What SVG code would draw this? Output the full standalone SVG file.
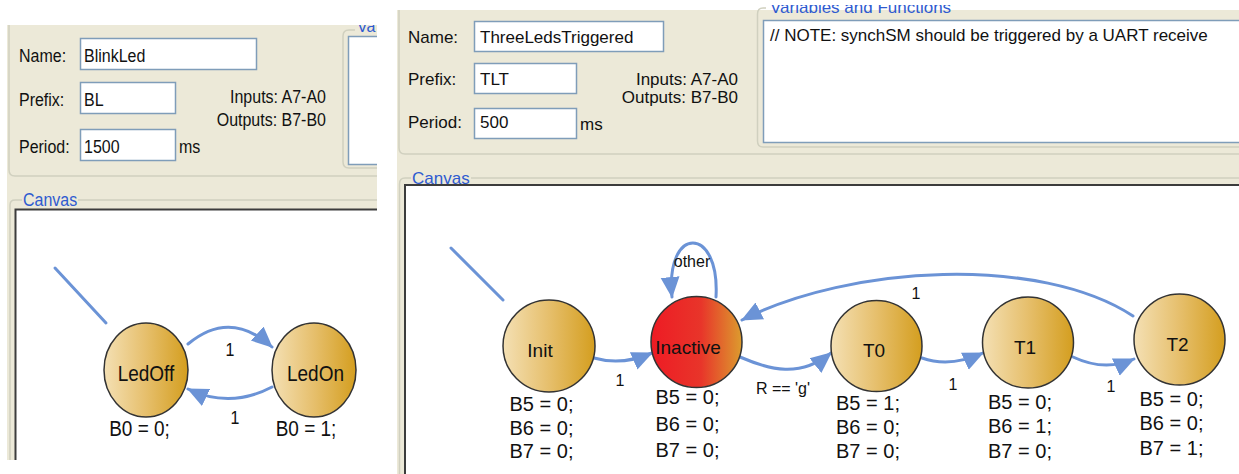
<svg xmlns="http://www.w3.org/2000/svg" width="1239" height="474" viewBox="0 0 1239 474">
  <defs>
    <style>
      .ui { font-family: "Liberation Sans", Arial, sans-serif; fill: #111; }
      .f16 { font-size: 16px; }
      .f17 { font-size: 17px; }
      .f19 { font-size: 19px; }
      .f20 { font-size: 20px; }
      .mid { text-anchor: middle; }
      .end { text-anchor: end; }
      .tall { transform-box: fill-box; transform-origin: 50% 50%; transform: scaleY(1.12); }
      .grp { fill: #2f5bd0; }
      .panel { fill: #ece9d8; }
      .frame { fill: none; stroke: #d0d0bf; stroke-width: 1.5; }
      .box { fill: #fff; stroke: #7f9db9; stroke-width: 1.5; }
      .sunk { fill: none; stroke: #3c3c3c; stroke-width: 2; }
      .state { stroke: #333; stroke-width: 1.5; }
      .edge { fill: none; stroke: #6b93d6; stroke-width: 3; stroke-linecap: round; }
      .arr { marker-end: url(#head); }
    </style>
    <linearGradient id="gold" x1="0" y1="0" x2="1" y2="0">
      <stop offset="0" stop-color="#f4e0b4"/>
      <stop offset="0.5" stop-color="#e6bf6c"/>
      <stop offset="1" stop-color="#d49e1f"/>
    </linearGradient>
    <linearGradient id="hot" x1="0" y1="0" x2="1" y2="0">
      <stop offset="0" stop-color="#ee1b24"/>
      <stop offset="0.55" stop-color="#e8352a"/>
      <stop offset="1" stop-color="#dc9c2e"/>
    </linearGradient>
    <marker id="head" viewBox="0 0 20 20" refX="19" refY="10" markerWidth="21" markerHeight="21" markerUnits="userSpaceOnUse" orient="auto">
      <path d="M0,1 L20,10 L0,19 z" fill="#6b93d6"/>
    </marker>
    <clipPath id="clipL"><rect x="0" y="25" width="377" height="435"/></clipPath>
    <clipPath id="clipR"><rect x="397" y="5" width="842" height="469"/></clipPath>
  </defs>

  <rect x="0" y="0" width="1239" height="474" fill="#fff"/>

  <!-- BlinkLed editor: form, variables box and canvas frame -->
  <g id="blinkled-panel" clip-path="url(#clipL)">
    <rect class="panel" x="7" y="25" width="370" height="435"/>
    <path class="frame" d="M9,20 L9,170 Q9,176 15,176 L377,176"/>
    <path class="frame" d="M355,30 L349,30 Q343,30 343,36 L343,162 Q343,168 349,168 L377,168"/>
    <text class="ui grp f16" x="357" y="32">Va</text>
    <rect class="box" x="348.5" y="36.5" width="60" height="128"/>

    <text class="ui f16 tall" x="19" y="61">Name:</text>
    <rect class="box" x="80.5" y="38.5" width="176" height="31"/>
    <text class="ui f16 tall" x="84" y="61">BlinkLed</text>
    <text class="ui f16 tall" x="19" y="105">Prefix:</text>
    <rect class="box" x="80.5" y="82.5" width="95" height="31"/>
    <text class="ui f16 tall" x="84" y="105">BL</text>
    <text class="ui f16 tall" x="19" y="152">Period:</text>
    <rect class="box" x="80.5" y="129.5" width="95" height="31"/>
    <text class="ui f16 tall" x="84" y="152">1500</text>
    <text class="ui f16 tall" x="179" y="152">ms</text>
    <text class="ui f16 tall end" x="326" y="102">Inputs: A7-A0</text>
    <text class="ui f16 tall end" x="326" y="125">Outputs: B7-B0</text>

    <path class="frame" d="M22,200 L15,200 Q10,200 10,205 L10,460 M78,200 L377,200"/>
    <text class="ui grp f16 tall" x="23" y="205">Canvas</text>
    <rect x="16" y="210" width="361" height="250" fill="#fff"/>
    <path class="sunk" d="M15.5,460 L15.5,209.5 L377,209.5"/>
  </g>

  <g id="blinkled-connectors">
    <path class="edge" d="M55,268 L106,323"/>
    <path class="edge arr" d="M188,344 Q230,309 272,347"/>
    <path class="edge arr" d="M272,387 Q230,409 188,389"/>
    <text class="ui f16 tall mid" x="230" y="355">1</text>
    <text class="ui f16 tall mid" x="235" y="423">1</text>
  </g>

  <g id="state-LedOff">
    <ellipse class="state" cx="146" cy="370" rx="42" ry="47" fill="url(#gold)"/>
    <text class="ui f19 tall mid" x="146" y="380">LedOff</text>
    <text class="ui f19 tall mid" x="139.5" y="435">B0 = 0;</text>
  </g>
  <g id="state-LedOn">
    <ellipse class="state" cx="314" cy="370" rx="42" ry="47" fill="url(#gold)"/>
    <text class="ui f19 tall mid" x="315.5" y="380">LedOn</text>
    <text class="ui f19 tall mid" x="306" y="435">B0 = 1;</text>
  </g>

  <!-- ThreeLedsTriggered editor: form, variables box and canvas frame -->
  <g id="threeleds-panel" clip-path="url(#clipR)">
    <rect class="panel" x="397" y="10" width="842" height="464"/>
    <path class="frame" d="M399,10 L399,148 Q399,154 405,154 L1239,154"/>
    <path class="frame" d="M766,8 L763,8 Q757.5,8 757.5,14 L757.5,141 Q757.5,147 763,147 L1239,147"/>
    <text class="ui grp f17" x="770" y="13">Variables and Functions</text>
    <rect class="box" x="763.5" y="20.5" width="480" height="122"/>
    <text class="ui f17" x="770" y="41">// NOTE: synchSM should be triggered by a UART receive</text>

    <text class="ui f17" x="408" y="43">Name:</text>
    <rect class="box" x="474.5" y="21.5" width="189" height="30"/>
    <text class="ui f17" x="480" y="43">ThreeLedsTriggered</text>
    <text class="ui f17" x="408" y="85">Prefix:</text>
    <rect class="box" x="474.5" y="63.5" width="102" height="30"/>
    <text class="ui f17" x="480" y="85">TLT</text>
    <text class="ui f17" x="408" y="128">Period:</text>
    <rect class="box" x="474.5" y="108.5" width="102" height="30"/>
    <text class="ui f17" x="480" y="128">500</text>
    <text class="ui f17" x="580" y="130">ms</text>
    <text class="ui f17 end" x="738" y="85">Inputs: A7-A0</text>
    <text class="ui f17 end" x="738" y="103">Outputs: B7-B0</text>

    <path class="frame" d="M411,178 L405,178 Q399.5,178 399.5,184 L399.5,474 M471,178 L1239,178"/>
    <text class="ui grp f17" x="412" y="184">Canvas</text>
    <rect x="406" y="186" width="833" height="288" fill="#fff"/>
    <path class="sunk" d="M405,474 L405,185 L1239,185"/>
  </g>

  <g id="threeleds-connectors">
    <path class="edge" d="M451,248 L503,300"/>
    <path class="edge arr" d="M594,358 Q622,366 652,353"/>
    <path class="edge arr" d="M716,297 C720,225 665,225 672,297"/>
    <path class="edge arr" d="M740,357 C770,370 800,378 831,353"/>
    <path class="edge arr" d="M922,358 Q950,368 983,353"/>
    <path class="edge arr" d="M1073,357 Q1105,372 1134,359"/>
    <path class="edge arr" d="M1133,316 C1040,255 850,265 742,320"/>
    <text class="ui f16 mid" x="620" y="386">1</text>
    <text class="ui f16 mid" x="692" y="267">other</text>
    <text class="ui f16 mid" x="783" y="394">R == 'g'</text>
    <text class="ui f16 mid" x="953" y="390">1</text>
    <text class="ui f16 mid" x="1111" y="392">1</text>
    <text class="ui f16 mid" x="916" y="299">1</text>
  </g>

  <g id="state-Init">
    <circle class="state" cx="549" cy="346" r="46" fill="url(#gold)"/>
    <text class="ui f19 mid" x="540" y="357">Init</text>
    <text class="ui f20 mid" x="541.5" y="411">B5 = 0;</text>
    <text class="ui f20 mid" x="541.5" y="434.5">B6 = 0;</text>
    <text class="ui f20 mid" x="541.5" y="458">B7 = 0;</text>
  </g>
  <g id="state-Inactive">
    <circle class="state" cx="696.5" cy="342" r="45.5" fill="url(#hot)"/>
    <text class="ui f19 mid" x="688" y="354">Inactive</text>
    <text class="ui f20 mid" x="687.5" y="404">B5 = 0;</text>
    <text class="ui f20 mid" x="687.5" y="430.5">B6 = 0;</text>
    <text class="ui f20 mid" x="687.5" y="457">B7 = 0;</text>
  </g>
  <g id="state-T0">
    <circle class="state" cx="876.5" cy="346" r="45.5" fill="url(#gold)"/>
    <text class="ui f19 mid" x="874" y="357">T0</text>
    <text class="ui f20 mid" x="868" y="410">B5 = 1;</text>
    <text class="ui f20 mid" x="868" y="434">B6 = 0;</text>
    <text class="ui f20 mid" x="868" y="458">B7 = 0;</text>
  </g>
  <g id="state-T1">
    <circle class="state" cx="1028" cy="342.5" r="45.5" fill="url(#gold)"/>
    <text class="ui f19 mid" x="1025" y="354">T1</text>
    <text class="ui f20 mid" x="1020" y="409">B5 = 0;</text>
    <text class="ui f20 mid" x="1020" y="433">B6 = 1;</text>
    <text class="ui f20 mid" x="1020" y="458">B7 = 0;</text>
  </g>
  <g id="state-T2">
    <circle class="state" cx="1179.5" cy="339.5" r="45.5" fill="url(#gold)"/>
    <text class="ui f19 mid" x="1177.5" y="351">T2</text>
    <text class="ui f20 mid" x="1171.5" y="406">B5 = 0;</text>
    <text class="ui f20 mid" x="1171.5" y="430">B6 = 0;</text>
    <text class="ui f20 mid" x="1171.5" y="455">B7 = 1;</text>
  </g>
</svg>
